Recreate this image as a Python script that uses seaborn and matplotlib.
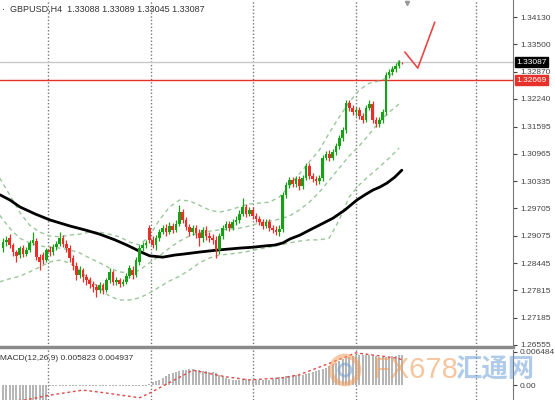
import numpy as np
import pandas as pd
import matplotlib
matplotlib.use("Agg")
import matplotlib.pyplot as plt
import matplotlib.transforms as mtrans
from matplotlib.patches import Ellipse
import seaborn as sns

# GBPUSD H4 candles (oldest -> newest)
opens = [1.2879, 1.2893, 1.2902, 1.2886, 1.2870, 1.2863, 1.2879, 1.2865, 1.2875, 1.2891,
         1.2895, 1.2858, 1.2863, 1.2851, 1.2875, 1.2870, 1.2881, 1.2888, 1.2902, 1.2888,
         1.2879, 1.2856, 1.2838, 1.2817, 1.2828, 1.2812, 1.2805, 1.2796, 1.2789, 1.2782,
         1.2794, 1.2782, 1.2805, 1.2824, 1.2801, 1.2805, 1.2796, 1.2801, 1.2814, 1.2828,
         1.2817, 1.2847, 1.2879, 1.2886, 1.2925, 1.2898, 1.2886, 1.2902, 1.2916, 1.2925,
         1.2916, 1.2930, 1.2921, 1.2935, 1.2962, 1.2944, 1.2928, 1.2916, 1.2925, 1.2914,
         1.2902, 1.2921, 1.2907, 1.2902, 1.2898, 1.2875, 1.2907, 1.2925, 1.2935, 1.2925,
         1.2939, 1.2944, 1.2958, 1.2974, 1.2958, 1.2967, 1.2953, 1.2946, 1.2939, 1.2930,
         1.2939, 1.2925, 1.2921, 1.2916, 1.2923, 1.3002, 1.3025, 1.3036, 1.3027, 1.3039,
         1.3022, 1.3041, 1.3069, 1.3045, 1.3039, 1.3034, 1.3041, 1.3087, 1.3096, 1.3087,
         1.3101, 1.3115, 1.3133, 1.3152, 1.3214, 1.3203, 1.3193, 1.3198, 1.3184, 1.3175,
         1.3203, 1.3212, 1.3175, 1.3166, 1.3175, 1.3193, 1.3279, 1.3286, 1.3293, 1.3300,
         1.33088]
highs = [1.2902, 1.2907, 1.2912, 1.2891, 1.2875, 1.2884, 1.2886, 1.2881, 1.2898, 1.2916,
         1.2902, 1.2865, 1.2870, 1.2879, 1.2884, 1.2888, 1.2895, 1.2916, 1.2909, 1.2898,
         1.2886, 1.2863, 1.2847, 1.2838, 1.2833, 1.2819, 1.2812, 1.2803, 1.2796, 1.2801,
         1.2798, 1.2810, 1.2833, 1.2828, 1.2812, 1.2810, 1.2808, 1.2821, 1.2840, 1.2838,
         1.2858, 1.2886, 1.2893, 1.2898, 1.2932, 1.2907, 1.2909, 1.2923, 1.2932, 1.2935,
         1.2939, 1.2937, 1.2944, 1.2978, 1.2969, 1.2951, 1.2935, 1.2932, 1.2932, 1.2923,
         1.2928, 1.2930, 1.2916, 1.2912, 1.2907, 1.2914, 1.2932, 1.2941, 1.2941, 1.2946,
         1.2953, 1.2967, 1.2995, 1.2981, 1.2974, 1.2974, 1.2960, 1.2953, 1.2946, 1.2946,
         1.2946, 1.2932, 1.2930, 1.2932, 1.3009, 1.3032, 1.3043, 1.3043, 1.3045, 1.3045,
         1.3048, 1.3075, 1.3075, 1.3052, 1.3045, 1.3048, 1.3094, 1.3103, 1.3106, 1.3108,
         1.3122, 1.3140, 1.3159, 1.3221, 1.3221, 1.3210, 1.3205, 1.3205, 1.3191, 1.3210,
         1.3221, 1.3219, 1.3182, 1.3182, 1.3200, 1.3286, 1.3293, 1.3300, 1.3307, 1.3313,
         1.33089]
lows = [1.2870, 1.2884, 1.2879, 1.2861, 1.2847, 1.2856, 1.2858, 1.2861, 1.2870, 1.2886,
        1.2851, 1.2828, 1.2842, 1.2847, 1.2861, 1.2863, 1.2875, 1.2884, 1.2881, 1.2870,
        1.2847, 1.2828, 1.2805, 1.2810, 1.2801, 1.2794, 1.2787, 1.2777, 1.2766, 1.2775,
        1.2773, 1.2777, 1.2798, 1.2794, 1.2794, 1.2789, 1.2791, 1.2796, 1.2810, 1.2808,
        1.2812, 1.2840, 1.2872, 1.2879, 1.2891, 1.2879, 1.2875, 1.2895, 1.2912, 1.2907,
        1.2912, 1.2914, 1.2916, 1.2930, 1.2937, 1.2921, 1.2907, 1.2909, 1.2902, 1.2884,
        1.2893, 1.2898, 1.2893, 1.2888, 1.2856, 1.2865, 1.2900, 1.2921, 1.2918, 1.2921,
        1.2932, 1.2937, 1.2953, 1.2951, 1.2953, 1.2946, 1.2939, 1.2932, 1.2923, 1.2925,
        1.2918, 1.2914, 1.2909, 1.2907, 1.2916, 1.2995, 1.3018, 1.3020, 1.3020, 1.3013,
        1.3015, 1.3036, 1.3039, 1.3032, 1.3025, 1.3027, 1.3034, 1.3082, 1.3080, 1.3082,
        1.3094, 1.3108, 1.3126, 1.3145, 1.3196, 1.3186, 1.3184, 1.3177, 1.3168, 1.3170,
        1.3198, 1.3168, 1.3159, 1.3159, 1.3168, 1.3186, 1.3272, 1.3279, 1.3286, 1.3295,
        1.33045]
closes = [1.2893, 1.2898, 1.2886, 1.2870, 1.2861, 1.2879, 1.2865, 1.2875, 1.2891, 1.2898,
          1.2858, 1.2847, 1.2851, 1.2875, 1.2870, 1.2881, 1.2888, 1.2902, 1.2888, 1.2879,
          1.2856, 1.2838, 1.2817, 1.2828, 1.2812, 1.2805, 1.2796, 1.2789, 1.2782, 1.2794,
          1.2782, 1.2805, 1.2824, 1.2801, 1.2805, 1.2796, 1.2801, 1.2814, 1.2833, 1.2817,
          1.2851, 1.2879, 1.2886, 1.2891, 1.2898, 1.2886, 1.2902, 1.2916, 1.2925, 1.2916,
          1.2930, 1.2921, 1.2935, 1.2962, 1.2944, 1.2928, 1.2916, 1.2925, 1.2914, 1.2902,
          1.2921, 1.2907, 1.2902, 1.2898, 1.2875, 1.2907, 1.2925, 1.2935, 1.2925, 1.2939,
          1.2944, 1.2958, 1.2974, 1.2958, 1.2967, 1.2953, 1.2946, 1.2939, 1.2930, 1.2939,
          1.2925, 1.2921, 1.2916, 1.2923, 1.3002, 1.3025, 1.3036, 1.3027, 1.3039, 1.3022,
          1.3041, 1.3069, 1.3045, 1.3039, 1.3034, 1.3041, 1.3087, 1.3096, 1.3087, 1.3101,
          1.3115, 1.3133, 1.3152, 1.3214, 1.3203, 1.3193, 1.3198, 1.3184, 1.3175, 1.3203,
          1.3212, 1.3175, 1.3166, 1.3175, 1.3193, 1.3279, 1.3286, 1.3293, 1.3300, 1.3309,
          1.33087]

# Bollinger bands, read every ~3 bars
band_idx = [-1, 2, 5, 8, 11, 14, 17, 20, 23, 26, 29, 32, 35, 38, 41, 44, 47, 50, 53, 56, 59,
            62, 65, 68, 71, 74, 77, 80, 83, 86, 89, 92, 95, 98, 101, 104, 107, 110, 113, 116, 119]
band_upper = [1.3041, 1.3002, 1.2962, 1.2932, 1.2916, 1.2907, 1.2905, 1.2909, 1.2911, 1.2916, 1.2916,
              1.2911, 1.2905, 1.2893, 1.2886, 1.2907, 1.2944, 1.2974, 1.2990, 1.2988, 1.2978,
              1.2967, 1.2962, 1.2967, 1.2974, 1.2981, 1.2983, 1.2985, 1.2997, 1.3022, 1.3050,
              1.3078, 1.3105, 1.3145, 1.3182, 1.3216, 1.3244, 1.3260, 1.3265, 1.3274, 1.3313]
band_mid = [1.2955, 1.2925, 1.2902, 1.2891, 1.2884, 1.2881, 1.2879, 1.2875, 1.2868, 1.2856, 1.2845,
            1.2833, 1.2824, 1.2821, 1.2828, 1.2845, 1.2861, 1.2879, 1.2895, 1.2907, 1.2914,
            1.2918, 1.2921, 1.2923, 1.2925, 1.2930, 1.2937, 1.2941, 1.2946, 1.2953, 1.2967,
            1.2985, 1.3008, 1.3036, 1.3064, 1.3092, 1.3115, 1.3142, 1.3170, 1.3193, 1.3212]
band_lower = [1.2801, 1.2808, 1.2814, 1.2824, 1.2835, 1.2847, 1.2851, 1.2845, 1.2828, 1.2805, 1.2787,
              1.2768, 1.2759, 1.2759, 1.2764, 1.2775, 1.2789, 1.2803, 1.2814, 1.2828, 1.2845,
              1.2856, 1.2863, 1.2865, 1.2868, 1.2872, 1.2877, 1.2881, 1.2886, 1.2891, 1.2895,
              1.2898, 1.2898, 1.2902, 1.2944, 1.2997, 1.3025, 1.3046, 1.3066, 1.3087, 1.3110]

# long moving average
ma_idx = [-0.9, 2.1, 5.1, 9.6, 14.1, 17.1, 20.1, 24.6, 29.1, 33.6, 37.2, 39.6, 42.0, 44.1, 48.0, 51.7,
          54.1, 59.2, 65.2, 71.2, 75.1, 78.7, 81.7, 84.1, 86.2, 89.2, 92.2, 95.8, 99.1, 102.7, 106.3,
          108.7, 111.1, 113.2, 115.3, 117.7, 119.8]
ma_vals = [1.3002, 1.2990, 1.2974, 1.2958, 1.2944, 1.2937, 1.2930, 1.2921, 1.2911, 1.2898, 1.2886,
           1.2877, 1.2868, 1.2861, 1.2858, 1.2863, 1.2865, 1.2870, 1.2875, 1.2879, 1.2881, 1.2884,
           1.2886, 1.2891, 1.2900, 1.2909, 1.2921, 1.2935, 1.2948, 1.2967, 1.2990, 1.3002, 1.3013,
           1.3020, 1.3029, 1.3043, 1.3059]

# MACD main (x 1e-3), one per bar, and signal line
macd_main = [-4.2, -4.1, -4.0, -3.9, -3.8, -3.8, -3.7, -3.6, -3.6, -3.5, -3.4, -3.3, -3.2, -3.1] + \
            [-0.1] * 30 + \
            [0.2, 0.5, 0.8, 1.0, 1.4, 1.8, 2.1, 2.4, 2.6, 2.8, 2.9, 3.0, 3.1, 3.1, 3.0, 2.9, 2.8, 2.7, 2.6, 2.5,
             2.3, 2.0, 1.7, 1.4, 1.2, 1.0, 1.0, 1.0, 1.1, 1.1, 1.0, 1.0, 1.0, 0.9, 0.9, 1.0, 1.0, 1.1, 1.3, 1.5,
             1.6, 1.7, 1.8, 1.9, 1.9, 2.0, 2.0, 2.2, 2.4, 2.6, 2.8, 2.9, 3.1, 3.4, 3.7, 4.1, 4.4, 4.7, 5.0, 5.2,
             5.4, 5.6, 5.8, 5.9, 5.9, 5.9, 5.8, 5.8, 5.6, 5.5, 5.4, 5.4, 5.5, 5.6, 5.7, 5.8, 5.823]
signal_idx = [0, 7, 14, 24, 29, 41, 44, 57, 67, 74, 84, 89, 99, 106, 118, 120]
signal_vals = [-3.3, -2.9, -2.0, -1.0, -1.4, -2.5, -1.6, 2.9, 1.6, 1.0, 1.4, 2.0, 4.5, 6.3, 5.3, 4.937]

separators = [13.5, 44.5, 75, 106, 142]
price_ticks = [1.34130, 1.33500, 1.32870, 1.32240, 1.31595, 1.30965, 1.30335,
               1.29705, 1.29075, 1.28445, 1.27815, 1.27185, 1.26555]
last_price = 1.33087
level_price = 1.32669
check_idx = [120.7, 124.6, 129.7]
check_price = [1.3332, 1.3295, 1.3401]

GREEN = "#18a018"
RED = "#e8302a"
BAND = "#9cc79c"

sns.set_style("white")
plt.rcParams["font.family"] = ["Liberation Sans", "Noto Sans CJK SC", "DejaVu Sans"]

df = pd.DataFrame({"open": opens, "high": highs, "low": lows, "close": closes})
df["idx"] = np.arange(len(df))
up = df["close"] >= df["open"]
colors = np.where(up, GREEN, RED)

fig = plt.figure(figsize=(5.55, 4.0), dpi=100)
W = 513 / 555
ax = fig.add_axes([0, 53 / 400, W, 347 / 400])
ax2 = fig.add_axes([0, 0, W, 50 / 400])

# price panel
for s in separators:
    ax.axvline(s, color="#777777", lw=1, ls=(0, (1, 1.5)), zorder=1)
    ax2.axvline(s, color="#777777", lw=1, ls=(0, (1, 1.5)), zorder=1)
ax.axhline(last_price, color="#c8c8c8", lw=1, zorder=1)
ax.axhline(level_price, color=RED, lw=1, zorder=1)

for vals in (band_upper, band_mid, band_lower):
    sns.lineplot(x=band_idx, y=vals, ax=ax, color=BAND, lw=1, linestyle=(0, (3, 2.5)), zorder=2)
sns.lineplot(x=ma_idx, y=ma_vals, ax=ax, color="black", lw=2, zorder=3)

ax.vlines(df["idx"], df["low"], df["high"], colors=colors, lw=0.9, zorder=4)
body = (df["close"] - df["open"]).abs().clip(lower=0.00005)
ax.bar(df["idx"], body, bottom=df[["open", "close"]].min(axis=1), width=0.8,
       color=colors, edgecolor="none", linewidth=0, zorder=5)

ax.plot(check_idx, check_price, color="#e8474a", lw=1.2, zorder=6)
ax.plot([121.3], [1.3446], marker="v", ms=3, color="#999999", zorder=6)

ax.set_xlim(-0.9, 153.2)
ax.set_ylim(1.26504, 1.34523)
ax.yaxis.tick_right()
ax.set_yticks(price_ticks)
ax.set_yticklabels([f"{t:.5f}" for t in price_ticks])
ax.tick_params(axis="y", direction="out", length=3, width=0.8, pad=2, labelsize=6, colors="#444444", right=True)
ax.set_xticks([])
ax.set_xlabel("")
ax.set_ylabel("")
for side in ("top", "left"):
    ax.spines[side].set_visible(False)
ax.spines["right"].set_color("#777777")
ax.spines["bottom"].set_color("#8a8a8a")
ax.spines["bottom"].set_linewidth(2.5)

trans = mtrans.blended_transform_factory(ax.transAxes, ax.transData)
ax.text(1.006, last_price, "1.33087", transform=trans, ha="left", va="center", fontsize=6, color="white",
        bbox=dict(boxstyle="square,pad=0.15", fc="black", ec="black"), zorder=10, clip_on=False)
ax.text(1.006, level_price, "1.32669", transform=trans, ha="left", va="center", fontsize=6, color="white",
        bbox=dict(boxstyle="square,pad=0.15", fc=RED, ec=RED), zorder=10, clip_on=False)

ax.text(0.004, 0.985, "·  GBPUSD,H4  1.33088 1.33089 1.33045 1.33087", transform=ax.transAxes,
        ha="left", va="top", fontsize=6.5, color="#333333")

# MACD panel
macd = np.array(macd_main) * 1e-3
ax2.vlines(np.arange(len(macd)), 0, macd, colors="#a8a8a8", lw=1.2, zorder=2)
sns.lineplot(x=signal_idx, y=np.array(signal_vals) * 1e-3, ax=ax2, color="#e04848", lw=1,
             linestyle=(0, (2, 2)), zorder=3)
ax2.set_xlim(-0.9, 153.2)
ax2.set_ylim(-0.00294, 0.00686)
ax2.yaxis.tick_right()
ax2.set_yticks([0.006484, 0.0])
ax2.set_yticklabels(["0.006484", "0.00"])
ax2.tick_params(axis="y", direction="out", length=3, width=0.8, pad=2, labelsize=6, colors="#444444", right=True)
ax2.set_xticks([])
ax2.set_xlabel("")
ax2.set_ylabel("")
for side in ("top", "left", "bottom"):
    ax2.spines[side].set_visible(False)
ax2.spines["right"].set_color("#777777")
ax2.text(0.0, 0.9, "MACD(12,26,9) 0.005823 0.004937", transform=ax2.transAxes,
         ha="left", va="top", fontsize=6, color="#333333")

# watermark
fig.add_artist(Ellipse((345 / 555, 30 / 400), 28 / 555, 28 / 400, transform=fig.transFigure,
                       fill=False, ec="#f0a060", lw=3.5, alpha=0.55))
fig.add_artist(Ellipse((345 / 555, 30 / 400), 12 / 555, 12 / 400, transform=fig.transFigure,
                       fill=False, ec="#6fa0d8", lw=2, alpha=0.55))
fig.text(373 / 555, 30 / 400, "FX678", fontsize=21, color="#f0a060", alpha=0.6,
         ha="left", va="center")
fig.text(455 / 555, 30 / 400, "汇通网", fontsize=19, color="#6fa0d8", alpha=0.55,
         ha="left", va="center", family=["Noto Sans CJK SC", "DejaVu Sans"], weight="bold")

fig.savefig("out.png", dpi=100, facecolor="white")
